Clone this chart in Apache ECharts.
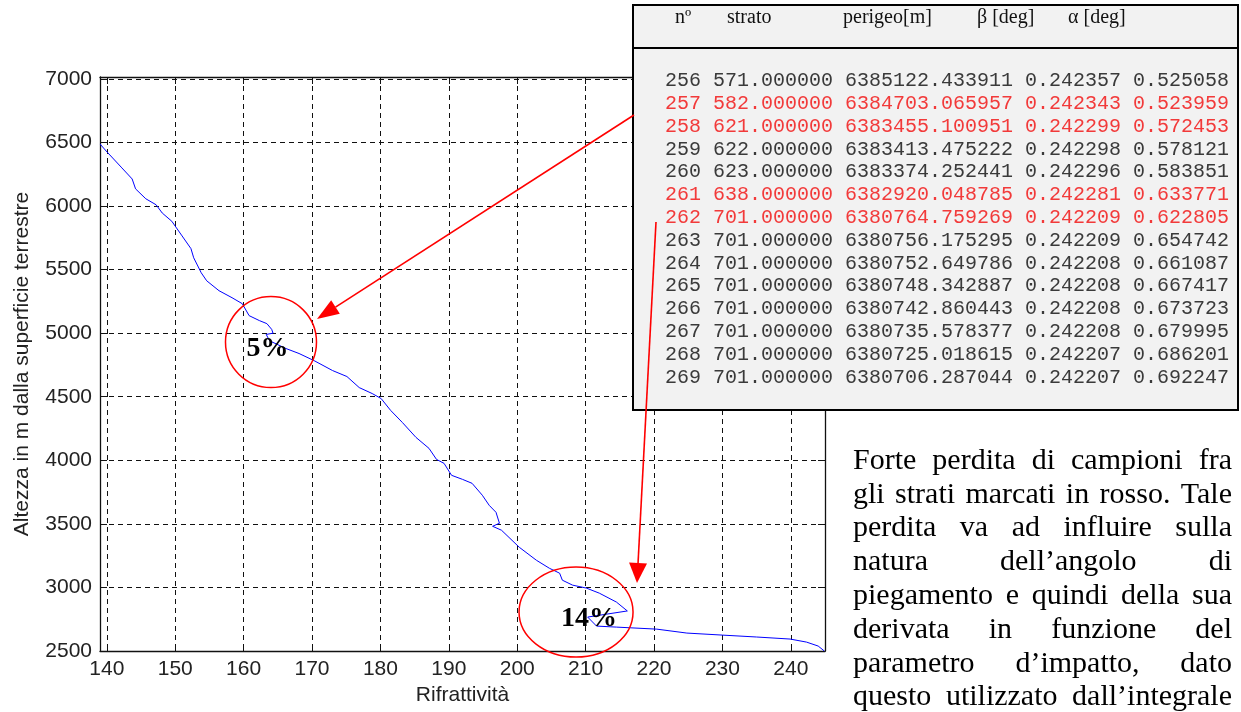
<!DOCTYPE html>
<html>
<head>
<meta charset="utf-8">
<script src="https://cdn.jsdelivr.net/npm/echarts@6/dist/echarts.min.js"></script>
<style>
  html, body { margin: 0; padding: 0; background: #ffffff; }
  #chart { width: 1241px; height: 712px; }
</style>
</head>
<body>
<div id="chart"></div>
<script>
// Refractivity profile: refractivity (x) against height above the Earth's surface in m (y)
const rifrattivita = [139.0, 139.9, 142.2, 143.7, 144.2, 145.7, 147.2, 148.1, 149.5, 151.0,
  152.3, 152.7, 153.8, 154.6, 156.4, 158.3, 159.8, 160.8, 162.3, 163.4,
  164.1, 164.3, 163.3, 163.8, 166.2, 168.1, 170.3, 173.0, 175.1, 176.9,
  178.8, 180.1, 181.5, 183.2, 185.2, 187.1, 188.2, 189.3, 190.4, 192.0,
  193.4, 194.9, 195.9, 196.9, 197.4, 196.4, 197.7, 200.3, 202.8, 204.7,
  206.2, 206.6, 208.1, 210.1, 212.0, 214.5, 216.1, 210.3, 211.6, 214.5,
  220.4, 224.8, 230.0, 235.0, 239.9, 242.3, 244.0, 244.9];
const altezza = [6488, 6433, 6300, 6213, 6135, 6057, 6010, 5945, 5880, 5765,
  5665, 5593, 5475, 5412, 5334, 5279, 5232, 5138, 5099, 5075,
  5030, 5000, 4990, 4940, 4879, 4840, 4784, 4706, 4659, 4572,
  4525, 4486, 4392, 4298, 4180, 4094, 4007, 3976, 3882, 3850,
  3819, 3725, 3646, 3591, 3505, 3481, 3450, 3316, 3214, 3151,
  3112, 3057, 3018, 2995, 2955, 2885, 2815, 2767, 2696, 2688,
  2672, 2641, 2625, 2610, 2594, 2570, 2539, 2500];

const xTicks = [140, 150, 160, 170, 180, 190, 200, 210, 220, 230, 240];
const yTicks = [2500, 3000, 3500, 4000, 4500, 5000, 5500, 6000, 6500, 7000];

// Sample-loss annotations, placed at data coordinates
const lossLabels = ['5%', '14%'];
const lossCentres = [[164.0, 4930], [208.6, 2806]];
const lossRadii = [[45.5, 45.5], [57, 45]];
const labelAnchors = [[163.5, 4880], [210.5, 2750]];

// Layer table
const tableHeader = ['nº', 'strato', 'perigeo[m]', 'β [deg]', 'α [deg]'];
const rowNumber = [256, 257, 258, 259, 260, 261, 262, 263, 264, 265, 266, 267, 268, 269];
const rowStrato = ['571.000000', '582.000000', '621.000000', '622.000000', '623.000000',
  '638.000000', '701.000000', '701.000000', '701.000000', '701.000000', '701.000000',
  '701.000000', '701.000000', '701.000000'];
const rowPerigeo = ['6385122.433911', '6384703.065957', '6383455.100951', '6383413.475222',
  '6383374.252441', '6382920.048785', '6380764.759269', '6380756.175295', '6380752.649786',
  '6380748.342887', '6380742.860443', '6380735.578377', '6380725.018615', '6380706.287044'];
const rowBeta = ['0.242357', '0.242343', '0.242299', '0.242298', '0.242296', '0.242281',
  '0.242209', '0.242209', '0.242208', '0.242208', '0.242208', '0.242208', '0.242207', '0.242207'];
const rowAlpha = ['0.525058', '0.523959', '0.572453', '0.578121', '0.583851', '0.633771',
  '0.622805', '0.654742', '0.661087', '0.667417', '0.673723', '0.679995', '0.686201', '0.692247'];
const markedRows = [257, 258, 261, 262];

// Note beside the chart (justified lines)
const noteLines = [
  'Forte perdita di campioni fra',
  'gli strati marcati in rosso. Tale',
  'perdita va ad influire sulla',
  'natura dell\u2019angolo di',
  'piegamento e quindi della sua',
  'derivata in funzione del',
  'parametro d\u2019impatto, dato',
  'questo utilizzato dall\u2019integrale'
];

const chart = echarts.init(document.getElementById('chart'), null, { renderer: 'canvas' });

const tickFont = { fontFamily: 'Liberation Sans', fontSize: 21, color: '#222' };
const titleFont = { fontFamily: 'Liberation Sans', fontSize: 21, color: '#222' };
const gridDash = { color: '#111', width: 1, type: [5, 4] };
const plain = v => String(v);

const seriesData = rifrattivita.map((x, i) => [x, altezza[i]]);

chart.setOption({
  animation: false,
  backgroundColor: '#ffffff',
  grid: { left: 100, top: 77, right: 416, bottom: 61, containLabel: false },
  xAxis: [
    {
      type: 'value', min: 139, max: 245, position: 'bottom',
      name: 'Rifrattività', nameLocation: 'middle', nameGap: 33,
      nameTextStyle: titleFont,
      axisLine: { show: true, onZero: false, lineStyle: { color: '#111', width: 1.3 } },
      axisTick: { show: true, inside: true, length: 7, customValues: xTicks, lineStyle: { color: '#111' } },
      axisLabel: Object.assign({ margin: 8, customValues: xTicks, formatter: plain }, tickFont),
      splitLine: { show: true, lineStyle: gridDash }
    },
    {
      type: 'value', min: 139, max: 245, position: 'top',
      axisLine: { show: true, onZero: false, lineStyle: { color: '#111', width: 1.3 } },
      axisTick: { show: true, inside: true, length: 7, customValues: xTicks, lineStyle: { color: '#111' } },
      axisLabel: { show: false },
      splitLine: { show: false }
    }
  ],
  yAxis: [
    {
      type: 'value', min: 2500, max: 7015, position: 'left',
      name: 'Altezza in m dalla superficie terrestre', nameLocation: 'middle', nameGap: 67,
      nameTextStyle: titleFont,
      axisLine: { show: true, onZero: false, lineStyle: { color: '#111', width: 1.3 } },
      axisTick: { show: true, inside: true, length: 7, customValues: yTicks, lineStyle: { color: '#111' } },
      axisLabel: Object.assign({ margin: 8, customValues: yTicks, formatter: plain }, tickFont),
      splitLine: { show: true, lineStyle: gridDash }
    },
    {
      type: 'value', min: 2500, max: 7015, position: 'right',
      axisLine: { show: true, onZero: false, lineStyle: { color: '#111', width: 1.3 } },
      axisTick: { show: true, inside: true, length: 7, customValues: yTicks, lineStyle: { color: '#111' } },
      axisLabel: { show: false },
      splitLine: { show: false }
    }
  ],
  series: [{
    type: 'line',
    xAxisIndex: 0, yAxisIndex: 0,
    data: seriesData,
    showSymbol: false,
    smooth: false,
    clip: true,
    lineStyle: { color: '#0000ff', width: 1 },
    z: 3
  }]
});

// ---- overlay graphics: loss circles, table, arrows, note ----
const elements = [];

// circles and percentage labels around the sample losses
lossCentres.forEach((c, i) => {
  const p = chart.convertToPixel({ gridIndex: 0 }, c);
  elements.push({
    type: 'ellipse', z: 20,
    shape: { cx: p[0], cy: p[1], rx: lossRadii[i][0], ry: lossRadii[i][1] },
    style: { fill: 'none', stroke: '#ff0000', lineWidth: 1.5 }
  });
});
lossLabels.forEach((t, i) => {
  const p = chart.convertToPixel({ gridIndex: 0 }, labelAnchors[i]);
  elements.push({
    type: 'text', z: 21,
    style: {
      x: p[0], y: p[1], text: t, fill: '#000',
      font: 'bold 28px "Liberation Serif"', textAlign: 'center', textVerticalAlign: 'middle'
    }
  });
});

// table box
const tbl = { left: 633, top: 5, right: 1238, bottom: 410, headSep: 48 };
elements.push({
  type: 'rect', z: 30,
  shape: { x: tbl.left, y: tbl.top, width: tbl.right - tbl.left, height: tbl.bottom - tbl.top },
  style: { fill: '#f2f2f2', stroke: '#000', lineWidth: 2 }
});
elements.push({
  type: 'line', z: 31,
  shape: { x1: tbl.left, y1: tbl.headSep, x2: tbl.right, y2: tbl.headSep },
  style: { stroke: '#000', lineWidth: 2 }
});
const headerX = [675, 727, 843, 977, 1068];
tableHeader.forEach((h, i) => {
  elements.push({
    type: 'text', z: 32,
    style: {
      x: headerX[i], y: 18, text: h, fill: '#111',
      font: '20px "Liberation Serif"', textAlign: 'left', textVerticalAlign: 'middle'
    }
  });
});
rowNumber.forEach((n, i) => {
  const line = [n, rowStrato[i], rowPerigeo[i], rowBeta[i], rowAlpha[i]].join(' ');
  elements.push({
    type: 'text', z: 32,
    style: {
      x: 665, y: 81 + i * 22.8, text: line,
      fill: markedRows.indexOf(n) >= 0 ? '#f23a3a' : '#3a3a3a',
      font: '20px "Liberation Mono"', textAlign: 'left', textVerticalAlign: 'middle'
    }
  });
});

// arrows from the table to the marked regions
function arrow(x1, y1, x2, y2, headLen, headHalf) {
  const dx = x2 - x1, dy = y2 - y1, L = Math.hypot(dx, dy);
  const ux = dx / L, uy = dy / L;
  const bx = x2 - ux * headLen, by = y2 - uy * headLen;
  elements.push({
    type: 'line', z: 40,
    shape: { x1: x1, y1: y1, x2: bx, y2: by },
    style: { stroke: '#ff0000', lineWidth: 1.6 }
  });
  elements.push({
    type: 'polygon', z: 40,
    shape: { points: [[x2, y2], [bx - uy * headHalf, by + ux * headHalf], [bx + uy * headHalf, by - ux * headHalf]] },
    style: { fill: '#ff0000', stroke: 'none' }
  });
}
arrow(634, 115, 317, 319, 22, 8);
arrow(656, 222, 637, 583, 20, 9);

// justified note text
const noteFont = '30px "Liberation Serif"';
const meas = document.createElement('canvas').getContext('2d');
meas.font = noteFont;
const noteLeft = 853, noteRight = 1232, noteMid = 461, noteStep = 33.8;
noteLines.forEach((ln, li) => {
  const words = ln.split(' ');
  const widths = words.map(w => meas.measureText(w).width);
  const total = widths.reduce((a, b) => a + b, 0);
  const gap = words.length > 1 ? (noteRight - noteLeft - total) / (words.length - 1) : 0;
  let x = noteLeft;
  words.forEach((w, wi) => {
    elements.push({
      type: 'text', z: 50,
      style: {
        x: x, y: noteMid + li * noteStep, text: w, fill: '#000',
        font: noteFont, textAlign: 'left', textVerticalAlign: 'middle'
      }
    });
    x += widths[wi] + gap;
  });
});

chart.setOption({ graphic: { elements: elements } });
</script>
</body>
</html>
